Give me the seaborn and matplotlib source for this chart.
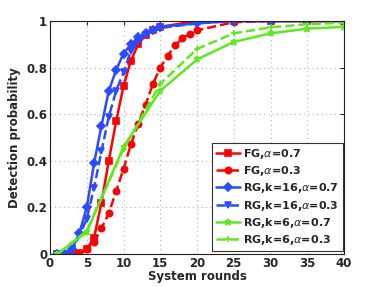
import matplotlib
matplotlib.use("Agg")
import matplotlib.pyplot as plt
import seaborn as sns
import pandas as pd
import numpy as np

# ---- data ----
x_dense = [1, 2, 3, 4, 5, 6, 7, 8, 9, 10, 11, 12, 13, 14, 15, 20, 25, 30, 35, 40]
x_fg03 = [1, 2, 3, 4, 5, 6, 7, 8, 9, 10, 11, 12, 13, 14, 15, 16, 17, 18, 19, 20, 25, 30, 35, 40]
x_sparse = [1, 5, 10, 15, 20, 25, 30, 35, 40]

fg_07 = [0, 0, 0, 0.005, 0.02, 0.07, 0.22, 0.40, 0.57, 0.72, 0.83, 0.90, 0.94, 0.96, 0.975,
         1.0, 1.0, 1.0, 1.0, 1.0]
fg_03 = [0, 0, 0, 0.005, 0.02, 0.05, 0.11, 0.175, 0.27, 0.365, 0.47, 0.56, 0.64, 0.73, 0.80,
         0.85, 0.895, 0.925, 0.944, 0.96, 0.995, 1.0, 1.0, 1.0]
rg16_07 = [0, 0, 0.02, 0.09, 0.20, 0.39, 0.55, 0.70, 0.79, 0.86, 0.90, 0.93, 0.947, 0.96, 0.975,
           0.99, 1.0, 1.0, 1.0, 1.0]
rg16_03 = [0, 0, 0.01, 0.08, 0.15, 0.285, 0.44, 0.59, 0.70, 0.78, 0.87, 0.91, 0.94, 0.955, 0.97,
           0.99, 1.0, 1.0, 1.0, 1.0]
rg6_07 = [0, 0.094, 0.46, 0.70, 0.835, 0.91, 0.947, 0.967, 0.975]
rg6_03 = [0, 0.10, 0.45, 0.73, 0.88, 0.947, 0.973, 0.986, 0.993]

labels = [r"FG,$\alpha$=0.7", r"FG,$\alpha$=0.3", r"RG,k=16,$\alpha$=0.7",
          r"RG,k=16,$\alpha$=0.3", r"RG,k=6,$\alpha$=0.7", r"RG,k=6,$\alpha$=0.3"]
x_ticks = [0, 5, 10, 15, 20, 25, 30, 35, 40]
y_ticks = [0, 0.2, 0.4, 0.6, 0.8, 1.0]
y_tick_labels = ["0", "0.2", "0.4", "0.6", "0.8", "1"]

RED = "#ff0000"
BLUE = "#2b4bff"
GREEN = "#5fe81e"

series = [
    (x_dense, fg_07, labels[0], RED, "-", "s", 4),
    (x_fg03, fg_03, labels[1], RED, "--", "o", 4.5),
    (x_dense, rg16_07, labels[2], BLUE, "-", "D", 4),
    (x_dense, rg16_03, labels[3], BLUE, "--", "v", 4.5),
    (x_sparse, rg6_07, labels[4], GREEN, "-", "*", 4.5),
    (x_sparse, rg6_03, labels[5], GREEN, "--", "+", 4.5),
]

sns.set_style("white")
plt.rcParams["font.family"] = ["DejaVu Sans"]
plt.rcParams["mathtext.fontset"] = "dejavusans"

fig = plt.figure(figsize=(3.82, 2.87), dpi=100)
ax = fig.add_axes([50 / 382, 1 - 254 / 287, 294 / 382, 233 / 287])

for xs, ys, lab, col, ls, mk, ms in series:
    df = pd.DataFrame({"x": xs, "y": ys})
    sns.lineplot(data=df, x="x", y="y", ax=ax, color=col, linestyle=ls, marker=mk,
                 markersize=ms, linewidth=1.8, label=lab, markeredgecolor=col,
                 markerfacecolor=col, markeredgewidth=1.2)

ax.set_xlim(0, 40)
ax.set_ylim(0, 1)
ax.set_xticks(x_ticks)
ax.set_yticks(y_ticks)
ax.set_yticklabels(y_tick_labels)
ax.grid(True, linestyle=(0, (1, 3)), color="#b0b0b0", linewidth=0.8)
ax.tick_params(direction="in", top=True, right=True, length=3, labelsize=8.5, pad=2)
for lab in ax.get_xticklabels() + ax.get_yticklabels():
    lab.set_fontweight("bold")
for sp in ax.spines.values():
    sp.set_color("#222222")
    sp.set_linewidth(0.8)

ax.set_xlabel("System rounds", fontsize=8.5, fontweight="bold", labelpad=0)
ax.set_ylabel("Detection probability", fontsize=8.5, fontweight="bold", labelpad=4)

leg = ax.legend(loc="lower right", bbox_to_anchor=(0.995, 0.015), fontsize=8,
                frameon=True, fancybox=False, edgecolor="#333333", framealpha=1,
                handlelength=2.2, handletextpad=0.3, borderpad=0.3, labelspacing=0.3,
                borderaxespad=0)
leg.get_frame().set_linewidth(0.8)
for t in leg.get_texts():
    t.set_fontweight("bold")

fig.savefig("out.png", dpi=100)
